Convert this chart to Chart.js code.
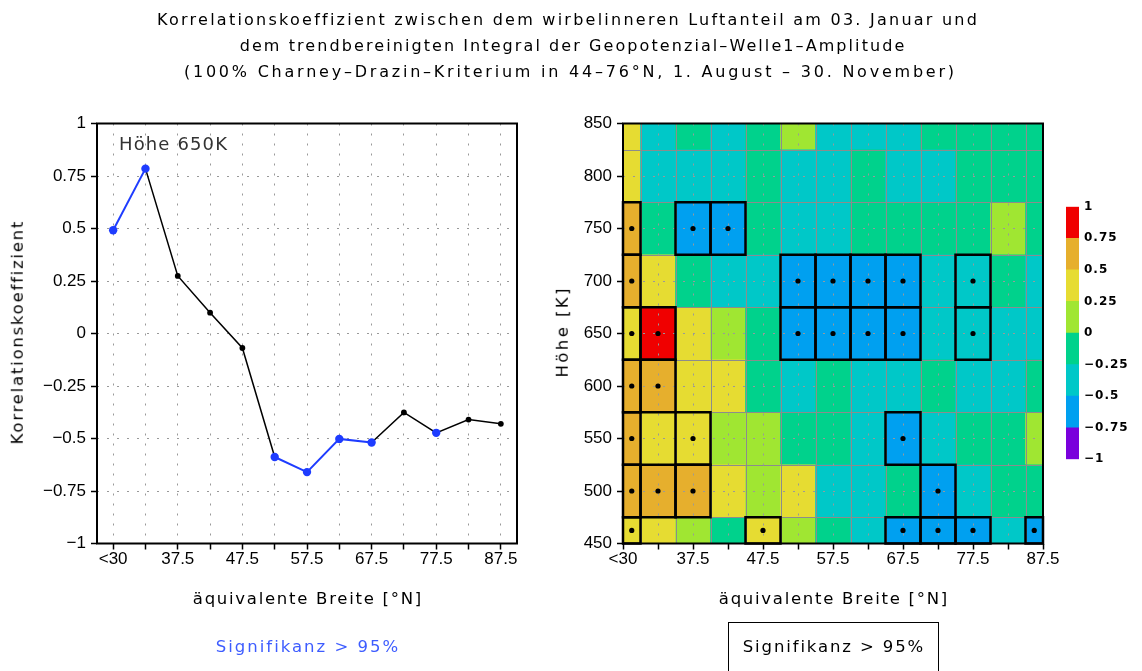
<!DOCTYPE html>
<html lang="de">
<head>
<meta charset="utf-8">
<title>Korrelationskoeffizient – wirbelinnerer Luftanteil und Welle-1-Amplitude</title>
<script src="https://cdn.jsdelivr.net/npm/chart.js@4.4.1/dist/chart.umd.min.js"></script>
<style>
  html, body { margin: 0; padding: 0; background: #fff; }
  body { width: 1142px; height: 671px; position: relative; overflow: hidden; }
  canvas { position: absolute; left: 0; top: 0; }
  .t { position: absolute; white-space: nowrap; font-family: "DejaVu Sans", sans-serif;
       line-height: 1; color: #000; transform: translate(-50%, -50%); }
  .rot { transform: translate(-50%, -50%) rotate(-90deg); }
  .box { position: absolute; left: 728px; top: 622px; width: 211px; height: 80px;
         border: 1.5px solid #000; box-sizing: border-box; }
</style>
</head>
<body>
<canvas id="lineChart" width="1142" height="671"></canvas>
<canvas id="heatChart" width="1142" height="671"></canvas>
<canvas id="scaleChart" width="1142" height="671"></canvas>
<div class="box"></div>

<div class="t" data-w="820" style="left:567px;top:20px;font-size:16px">Korrelationskoeffizient zwischen dem wirbelinneren Luftanteil am 03. Januar und</div>
<div class="t" data-w="665" style="left:572px;top:46px;font-size:16px">dem trendbereinigten Integral der Geopotenzial–Welle1–Amplitude</div>
<div class="t" data-w="770" style="left:569px;top:72px;font-size:16px">(100% Charney–Drazin–Kriterium in 44–76°N, 1. August – 30. November)</div>

<div class="t" data-w="108" style="left:173px;top:144px;font-size:18px;color:#333">Höhe 650K</div>

<div class="t rot" data-w="223" style="left:18px;top:333px;font-size:16.5px">Korrelationskoeffizient</div>
<div class="t rot" data-w="89" style="left:563px;top:333px;font-size:16.5px">Höhe [K]</div>

<div class="t" data-w="228" style="left:307px;top:599px;font-size:16.5px">äquivalente Breite [°N]</div>
<div class="t" data-w="228" style="left:833px;top:599px;font-size:16.5px">äquivalente Breite [°N]</div>

<div class="t" data-w="182" style="left:307px;top:647px;font-size:16.5px;color:#3d5cff">Signifikanz &gt; 95%</div>
<div class="t" data-w="180" style="left:833px;top:647px;font-size:16.5px">Signifikanz &gt; 95%</div>

<script>
// ---- data -----------------------------------------------------------------
// equivalent latitude bins (°N)
const latLabels = ['<30', '32.5', '37.5', '42.5', '47.5', '52.5', '57.5',
                   '62.5', '67.5', '72.5', '77.5', '82.5', '87.5'];
// potential temperature levels (K)
const heights = [450, 500, 550, 600, 650, 700, 750, 800, 850];

// correlation coefficient per level, one value per latitude bin
const corr450 = [0.47, 0.39, 0.16, -0.08, 0.46, 0.12, -0.23, -0.35, -0.55, -0.58, -0.53, -0.42, -0.51];
const corr500 = [0.62, 0.55, 0.52, 0.34, 0.18, 0.28, -0.30, -0.34, -0.22, -0.52, -0.36, -0.19, -0.20];
const corr550 = [0.56, 0.41, 0.47, 0.20, 0.14, -0.11, -0.17, -0.29, -0.54, -0.30, -0.20, -0.13, 0.06];
const corr600 = [0.61, 0.57, 0.37, 0.33, -0.16, -0.35, -0.24, -0.32, -0.36, -0.21, -0.33, -0.30, -0.19];
const corr650 = [0.492, 0.785, 0.274, 0.099, -0.069, -0.588, -0.660, -0.502, -0.519, -0.376, -0.473, -0.410, -0.430];
const corr700 = [0.55, 0.31, -0.21, -0.33, -0.39, -0.57, -0.61, -0.55, -0.53, -0.41, -0.46, -0.24, -0.29];
const corr750 = [0.58, -0.14, -0.56, -0.54, -0.22, -0.34, -0.31, -0.23, -0.20, -0.16, -0.11, 0.09, -0.18];
const corr800 = [0.38, -0.33, -0.36, -0.29, -0.21, -0.32, -0.27, -0.19, -0.35, -0.30, -0.22, -0.17, -0.13];
const corr850 = [0.33, -0.31, -0.12, -0.29, -0.18, 0.07, -0.34, -0.28, -0.30, -0.15, -0.09, -0.20, -0.14];

// significance above 95% (1 = significant)
const sig450 = [1, 0, 0, 0, 1, 0, 0, 0, 1, 1, 1, 0, 1];
const sig500 = [1, 1, 1, 0, 0, 0, 0, 0, 0, 1, 0, 0, 0];
const sig550 = [1, 0, 1, 0, 0, 0, 0, 0, 1, 0, 0, 0, 0];
const sig600 = [1, 1, 0, 0, 0, 0, 0, 0, 0, 0, 0, 0, 0];
const sig650 = [1, 1, 0, 0, 0, 1, 1, 1, 1, 0, 1, 0, 0];
const sig700 = [1, 0, 0, 0, 0, 1, 1, 1, 1, 0, 1, 0, 0];
const sig750 = [1, 0, 1, 1, 0, 0, 0, 0, 0, 0, 0, 0, 0];
const sig800 = [0, 0, 0, 0, 0, 0, 0, 0, 0, 0, 0, 0, 0];
const sig850 = [0, 0, 0, 0, 0, 0, 0, 0, 0, 0, 0, 0, 0];

// shading levels and their colours
const levels = [-1, -0.75, -0.5, -0.25, 0, 0.25, 0.5, 0.75, 1];
const levelColors = ['#7a00dc', '#00a0f0', '#00c8c8', '#00d28c',
                     '#a0e632', '#e6dc32', '#e6af2d', '#f00000'];

const corrRows = [corr450, corr500, corr550, corr600, corr650, corr700, corr750, corr800, corr850];
const sigRows = [sig450, sig500, sig550, sig600, sig650, sig700, sig750, sig800, sig850];

// ---- helpers --------------------------------------------------------------
const BLUE = '#1e3cff';
const GRID = '#999999';

function colorFor(v) {
  for (let k = 0; k < levelColors.length; k++) {
    if (v < levels[k + 1]) return levelColors[k];
  }
  return levelColors[levelColors.length - 1];
}
function fmt(v) {
  const r = Math.round(v * 100) / 100;
  return (r === 0 ? '0' : String(r)).replace('-', '\u2212');
}
function everyOther(value, index) {
  return index % 2 === 0 ? latLabels[index] : '';
}

// spread letters so each heading covers its given width
document.querySelectorAll('.t[data-w]').forEach(el => {
  const target = +el.dataset.w;
  const n = [...el.textContent].length;
  const natural = el.offsetWidth;
  const ls = (target - natural) / Math.max(1, n - 1);
  el.style.letterSpacing = ls + 'px';
  el.style.paddingLeft = ls + 'px';
});

Chart.defaults.font.family = '"Liberation Sans", Arial, sans-serif';
Chart.defaults.font.size = 17;
Chart.defaults.color = '#000';
Chart.defaults.animation = false;
Chart.defaults.responsive = false;
Chart.defaults.events = [];
Chart.defaults.plugins.legend.display = false;
Chart.defaults.plugins.tooltip.enabled = false;

const frame = {
  id: 'frame',
  afterDraw(chart) {
    const a = chart.chartArea, ctx = chart.ctx;
    ctx.save();
    ctx.lineWidth = 2;
    ctx.strokeStyle = '#000';
    ctx.strokeRect(a.left, a.top, a.right - a.left, a.bottom - a.top);
    ctx.restore();
  }
};

function axisGrid() {
  return { color: GRID, lineWidth: 1, tickLength: 6, tickColor: '#000', tickWidth: 1.5 };
}

// ---- left panel: profile at 650 K --------------------------------------
new Chart(document.getElementById('lineChart'), {
  type: 'line',
  data: {
    labels: latLabels,
    datasets: [{
      data: corr650,
      borderColor: '#000',
      borderWidth: 1.5,
      tension: 0,
      clip: false,
      pointRadius: c => sig650[c.dataIndex] ? 4.2 : 2.9,
      pointBackgroundColor: c => sig650[c.dataIndex] ? BLUE : '#000',
      pointBorderWidth: 0,
      segment: {
        borderColor: c => (sig650[c.p0DataIndex] && sig650[c.p1DataIndex]) ? BLUE : '#000',
        borderWidth: c => (sig650[c.p0DataIndex] && sig650[c.p1DataIndex]) ? 2 : 1.5
      }
    }]
  },
  options: {
    layout: { padding: { left: 0, top: 123.5, right: 625, bottom: 0 } },
    scales: {
      x: {
        type: 'category', offset: true,
        grid: Object.assign(axisGrid(), { offset: false }),
        border: { display: false, dash: [2, 8] },
        ticks: { autoSkip: false, maxRotation: 0, padding: 0, callback: everyOther },
        afterFit: s => { s.height = 127.5; }
      },
      y: {
        min: -1, max: 1,
        grid: axisGrid(),
        border: { display: false, dash: [2, 8] },
        ticks: { stepSize: 0.25, padding: 5, callback: v => fmt(v) },
        afterFit: s => { s.width = 97; }
      }
    }
  },
  plugins: [frame]
});

// ---- right panel: latitude–height field ---------------------------------
const halfStep = (heights[1] - heights[0]) / 2;

const cellEdges = {
  id: 'cellEdges',
  afterDatasetsDraw(chart) {
    const {ctx, chartArea: a, scales: {x, y}} = chart;
    ctx.save();
    ctx.strokeStyle = '#8c8c8c';
    ctx.lineWidth = 1;
    ctx.beginPath();
    for (let i = 0; i < latLabels.length - 1; i++) {
      const px = Math.round(x.getPixelForValue(i + 0.5)) + 0.5;
      ctx.moveTo(px, a.top); ctx.lineTo(px, a.bottom);
    }
    for (let k = 0; k < heights.length - 1; k++) {
      const py = Math.round(y.getPixelForValue(heights[k] + halfStep)) + 0.5;
      ctx.moveTo(a.left, py); ctx.lineTo(a.right, py);
    }
    ctx.stroke();
    ctx.restore();
  },
  afterDraw(chart) {
    const {ctx, chartArea: a, scales: {x, y}} = chart;
    ctx.save();
    for (let k = 0; k < heights.length; k++) {
      for (let i = 0; i < latLabels.length; i++) {
        if (!sigRows[k][i]) continue;
        const x0 = Math.max(a.left, x.getPixelForValue(i - 0.5));
        const x1 = Math.min(a.right, x.getPixelForValue(i + 0.5));
        const y0 = Math.max(a.top, y.getPixelForValue(heights[k] + halfStep));
        const y1 = Math.min(a.bottom, y.getPixelForValue(heights[k] - halfStep));
        ctx.lineWidth = 2.5;
        ctx.strokeStyle = '#000';
        ctx.strokeRect(x0, y0, x1 - x0, y1 - y0);
        ctx.fillStyle = '#000';
        ctx.beginPath();
        ctx.arc((x0 + x1) / 2, (y0 + y1) / 2, 2.6, 0, Math.PI * 2);
        ctx.fill();
      }
    }
    ctx.restore();
  }
};

new Chart(document.getElementById('heatChart'), {
  type: 'bar',
  data: {
    labels: latLabels,
    datasets: heights.map((h, k) => ({
      data: latLabels.map(() => [h - halfStep, h + halfStep]),
      backgroundColor: corrRows[k].map(colorFor),
      borderWidth: 0,
      grouped: false,
      barPercentage: 1,
      categoryPercentage: 1,
      clip: 0
    }))
  },
  options: {
    layout: { padding: { left: 540, top: 123.5, right: 99, bottom: 0 } },
    scales: {
      x: {
        type: 'category', offset: false,
        grid: Object.assign(axisGrid(), { offset: false, z: 1 }),
        border: { display: false, dash: [2, 8] },
        ticks: { autoSkip: false, maxRotation: 0, padding: 0, callback: everyOther },
        afterFit: s => { s.height = 127.5; }
      },
      y: {
        type: 'linear', min: heights[0], max: heights[heights.length - 1],
        grid: Object.assign(axisGrid(), { z: 1 }),
        border: { display: false, dash: [2, 8] },
        ticks: { stepSize: 50, padding: 5 },
        afterFit: s => { s.width = 83; }
      }
    }
  },
  plugins: [cellEdges, frame]
});

// ---- colour scale ---------------------------------------------------------
new Chart(document.getElementById('scaleChart'), {
  type: 'bar',
  data: {
    labels: [''],
    datasets: levelColors.map((c, k) => ({
      data: [[levels[k], levels[k + 1]]],
      backgroundColor: c,
      borderWidth: 0,
      grouped: false,
      barPercentage: 1,
      categoryPercentage: 1
    }))
  },
  options: {
    layout: { padding: { left: 1066, top: 206.7, right: 13, bottom: 211.7 } },
    scales: {
      x: { display: false, offset: true },
      y: {
        position: 'right', min: -1, max: 1,
        grid: { display: false, drawTicks: false },
        border: { display: false },
        ticks: { stepSize: 0.25, padding: 5, callback: v => fmt(v),
                 font: { family: '"DejaVu Sans", sans-serif', size: 12, weight: 'bold' } },
        afterFit: s => { s.width = 50; }
      }
    }
  },
  plugins: [{
    id: 'spacing',
    beforeDraw(chart) { chart.ctx.letterSpacing = '1px'; }
  }]
});
</script>
</body>
</html>
